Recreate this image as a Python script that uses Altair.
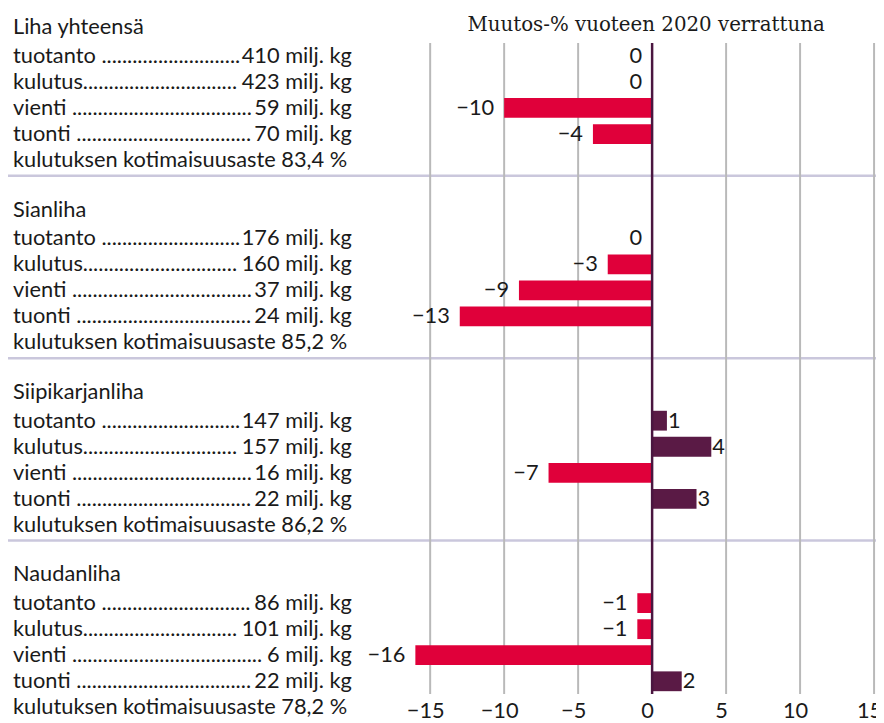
import altair as alt
import pandas as pd

# ---- data ----
groups = ["Liha yhteensä", "Sianliha", "Siipikarjanliha", "Naudanliha"]
items = ["tuotanto", "kulutus", "vienti", "tuonti"]
volumes = [[410, 423, 59, 70], [176, 160, 37, 24], [147, 157, 16, 22], [86, 101, 6, 22]]
self_sufficiency = ["83,4", "85,2", "86,2", "78,2"]
changes = [[0, 0, -10, -4], [0, -3, -9, -13], [1, 4, -7, 3], [-1, -1, -16, 2]]
axis_ticks = [-15, -10, -5, 0, 5, 10, 15]
title_text = "Muutos-% vuoteen 2020 verrattuna"

# ---- style ----
RED = "#e0003a"
PURPLE = "#5a1a45"
TEXT = "#1a1a1a"
GRID = "#b9b9b9"
SEP = "#cac7dc"
SANS = "Lato"
SERIF = "DejaVu Serif"
FS = 22
W, H = 876, 689
STEP = 7  # rows per group block (title, 4 items, summary, gap)

rows = []
for g in range(len(groups)):
    for i, it in enumerate(items):
        rows.append(dict(slot=g * STEP + 1 + i, item=it,
                         dots=it + (" " if it != "kulutus" else "") + "." * 120,
                         nd=len(str(volumes[g][i])),
                         vol=f"{volumes[g][i]} milj. kg", v=changes[g][i]))
rows_df = pd.DataFrame(rows)
heads_df = pd.DataFrame(dict(slot=[g * STEP - 0.1 for g in range(len(groups))], text=groups))
summ_df = pd.DataFrame(dict(slot=[g * STEP + 5 for g in range(len(groups))],
                            text=[f"kulutuksen kotimaisuusaste {s} %" for s in self_sufficiency]))
sep_df = pd.DataFrame(dict(slot=[g * STEP + 5.6 for g in range(len(groups) - 1)]))
grid_df = pd.DataFrame(dict(v=axis_ticks))
title_df = pd.DataFrame(dict(text=[title_text]))

xs = alt.Scale(domain=[-43.53, 15.13], nice=False, zero=False)
ys = alt.Scale(domain=[-0.711, 25.487], nice=False, zero=False, reverse=True)
x_axis = alt.Axis(
    values=axis_ticks, grid=False, domain=False, ticks=False,
    labelExpr="replace(datum.label, '-', '\u2212')",
    labelFont=SANS, labelFontSize=FS, labelColor=TEXT, labelPadding=7,
    labelOffset=-5,
    title=None, labelFlush=False, labelOverlap=False)

X = lambda f: alt.X(f, scale=xs, axis=x_axis)
Y = lambda f: alt.Y(f, scale=ys, axis=None)

sep = alt.Chart(sep_df).mark_rule(color=SEP, strokeWidth=2.5).encode(
    x=alt.value(0), x2=alt.value(W), y=Y("slot:Q"))

grid = alt.Chart(grid_df).transform_filter("datum.v != 0").mark_rule(
    color=GRID, strokeWidth=2).encode(
    x=X("v:Q"), y=alt.value(32), y2=alt.value(H))

bars = alt.Chart(rows_df).transform_calculate(
    lo="datum.slot - 0.38", hi="datum.slot + 0.38").mark_bar().encode(
    x=X("v:Q"), x2=alt.datum(0),
    y=Y("lo:Q"), y2="hi:Q",
    color=alt.condition("datum.v < 0", alt.value(RED), alt.value(PURPLE)))

zero = alt.Chart(grid_df).transform_filter("datum.v == 0").mark_rule(
    color="#4a1640", strokeWidth=2.5).encode(
    x=X("v:Q"), y=alt.value(32), y2=alt.value(H))

lbl_calc = "datum.v < 0 ? '\u2212' + abs(datum.v) : '' + datum.v"
neg_lbl = alt.Chart(rows_df).transform_filter("datum.v <= 0").transform_calculate(
    lbl=lbl_calc).mark_text(align="right", baseline="middle", dx=-10,
                            font=SANS, fontSize=FS, color=TEXT).encode(
    x=X("v:Q"), y=Y("slot:Q"), text="lbl:N")
pos_lbl = alt.Chart(rows_df).transform_filter("datum.v > 0").transform_calculate(
    lbl=lbl_calc).mark_text(align="left", baseline="middle", dx=1,
                            font=SANS, fontSize=FS, color=TEXT).encode(
    x=X("v:Q"), y=Y("slot:Q"), text="lbl:N")

# dotted leaders: the available width depends on how many digits the value has
dot_layers = []
for n, lim in [(1, 256), (2, 243), (3, 230)]:
    dot_layers.append(
        alt.Chart(rows_df).transform_filter(f"datum.nd == {n}").mark_text(
            align="left", baseline="middle", font=SANS, fontSize=FS, color=TEXT,
            limit=lim, ellipsis=".").encode(
            x=alt.value(5), y=Y("slot:Q"), text="dots:N"))

vals = alt.Chart(rows_df).mark_text(align="right", baseline="middle", font=SANS,
                                    fontSize=FS, color=TEXT).encode(
    x=alt.value(347), y=Y("slot:Q"), text="vol:N")
heads = alt.Chart(heads_df).mark_text(align="left", baseline="middle", font=SANS,
                                      fontSize=FS, color=TEXT).encode(
    x=alt.value(5), y=Y("slot:Q"), text="text:N")
summ = alt.Chart(summ_df).mark_text(align="left", baseline="middle", font=SANS,
                                    fontSize=FS, color=TEXT).encode(
    x=alt.value(5), y=Y("slot:Q"), text="text:N")
title = alt.Chart(title_df).mark_text(align="center", baseline="alphabetic",
                                      font=SERIF, fontSize=20, color=TEXT).encode(
    x=alt.value(644), y=alt.value(20), text="text:N")

chart = alt.layer(sep, grid, bars, zero, neg_lbl, pos_lbl, *dot_layers, vals,
                  heads, summ, title).properties(
    width=W, height=H,
    autosize=alt.AutoSizeParams(type="none"),
    padding={"left": 0, "top": 0, "right": 0, "bottom": 26},
    background="white",
).configure_view(stroke=None)

chart.save("out.html", embed_options={"renderer": "svg", "actions": False})
